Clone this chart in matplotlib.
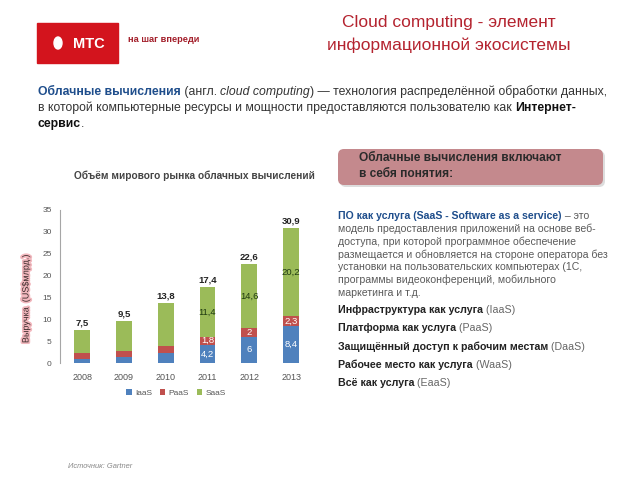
import matplotlib
matplotlib.use("Agg")
import matplotlib.pyplot as plt
from matplotlib.patches import Rectangle, Ellipse, FancyBboxPatch
import matplotlib.patheffects as pe

plt.rcParams['font.family'] = ['Liberation Sans', 'DejaVu Sans']

years = ['2008', '2009', '2010', '2011', '2012', '2013']
iaas = [0.9, 1.4, 2.3, 4.2, 6.0, 8.4]
paas = [1.4, 1.3, 1.7, 1.8, 2.0, 2.3]
saas = [5.2, 6.8, 9.8, 11.4, 14.6, 20.2]
totals = [7.5, 9.5, 13.8, 17.4, 22.6, 30.9]
iaas_lbl = ['', '', '', '4,2', '6', '8,4']
paas_lbl = ['', '', '', '1,8', '2', '2,3']
saas_lbl = ['', '', '', '11,4', '14,6', '20,2']
series_names = ['IaaS', 'PaaS', 'SaaS']
colors = ['#4F81BD', '#C0504D', '#9BBB59']

fig = plt.figure(figsize=(6.4, 4.8), dpi=100)
fig.patch.set_facecolor('white')

bg = fig.add_axes([0, 0, 1, 1])
bg.set_xlim(0, 640)
bg.set_ylim(480, 0)
bg.axis('off')
bg.patch.set_alpha(0)

renderer = fig.canvas.get_renderer()

def rich(x, y, parts, size, va='center'):
    cx = x
    for txt, kw in parts:
        t = bg.text(cx, y, txt, fontsize=size, va=va, ha='left', **kw)
        bb = t.get_window_extent(renderer=renderer)
        cx += bb.width
    return cx

# Logo
bg.add_patch(Rectangle((37, 23), 81, 40, color='#D3141D', zorder=1))
bg.add_patch(Ellipse((58, 43), 8, 12, color='white', zorder=2))
bg.text(73, 43.5, 'МТС', color='white', fontsize=10.5, fontweight='bold', va='center', ha='left', zorder=3)
bg.text(128, 40, 'на шаг впереди', color='#A31E2A', fontsize=6.7, fontweight='bold', va='center', ha='left')

# Title
title_c = '#B4232F'
bg.text(449, 22, 'Cloud computing - элемент', color=title_c, fontsize=12.5, ha='center', va='center')
bg.text(449, 45, 'информационной экосистемы', color=title_c, fontsize=12.5, ha='center', va='center')

# Paragraph
blue = '#1F4E8C'
gray = '#333333'
ps = 8.8
rich(38, 92, [('Облачные вычисления', dict(color=blue, fontweight='bold')),
              (' (англ. ', dict(color=gray)),
              ('cloud computing', dict(color=gray, style='italic')),
              (') — технология распределённой обработки данных,', dict(color=gray))], ps)
rich(38, 108, [('в которой компьютерные ресурсы и мощности предоставляются пользователю как ', dict(color=gray)),
               ('Интернет-', dict(color='#111111', fontweight='bold'))], ps)
rich(38, 124, [('сервис', dict(color='#111111', fontweight='bold')),
               ('.', dict(color=gray))], ps)

# Rose box
box = FancyBboxPatch((338, 149), 265, 36, boxstyle='round,pad=0,rounding_size=6',
                     facecolor='#C4898D', edgecolor='none', zorder=2)
shadow = FancyBboxPatch((340, 151), 265, 36, boxstyle='round,pad=0,rounding_size=6',
                        facecolor='#DDDDDD', edgecolor='none', zorder=1)
bg.add_patch(shadow)
bg.add_patch(box)
bg.text(359, 158, 'Облачные вычисления включают', fontsize=8.6, fontweight='bold', color='#2A2A2A', va='center', zorder=3)
bg.text(359, 174, 'в себя понятия:', fontsize=8.6, fontweight='bold', color='#2A2A2A', va='center', zorder=3)

# List
lgray = '#5A5A5A'
rich(338, 216, [('ПО как услуга (SaaS - Software as a service)', dict(color=blue, fontweight='bold')),
                (' – это', dict(color=lgray))], 7.6)
body = ['модель предоставления приложений на основе веб-',
        'доступа, при которой программное обеспечение',
        'размещается и обновляется на стороне оператора без',
        'установки на пользовательских компьютерах (1С,',
        'программы видеоконференций, мобильного',
        'маркетинга и т.д.']
for i, line in enumerate(body):
    bg.text(338, 229 + i * 12.8, line, fontsize=7.6, color=lgray, va='center')
items = [('Инфраструктура как услуга', ' (IaaS)'),
         ('Платформа как услуга', ' (PaaS)'),
         ('Защищённый доступ к рабочим местам', ' (DaaS)'),
         ('Рабочее место как услуга', ' (WaaS)'),
         ('Всё как услуга', ' (EaaS)')]
for i, (b, n) in enumerate(items):
    rich(338, 310 + i * 18.3, [(b, dict(color='#222222', fontweight='bold')),
                              (n, dict(color='#666666'))], 7.7)

# Chart title and source
bg.text(194, 176, 'Объём мирового рынка облачных вычислений', fontsize=7.3, fontweight='bold',
        color='#444444', ha='center', va='center')
bg.text(68, 467, 'Источник: Gartner', fontsize=5.4, style='italic', color='#888888', va='center')

# Chart
ax = fig.add_axes([60 / 640, 1 - 363 / 480, 252 / 640, 153 / 480])
ax.patch.set_alpha(0)
x = list(range(len(years)))
w = 0.38
b1 = ax.bar(x, iaas, w, color=colors[0], label=series_names[0])
bottom2 = iaas
b2 = ax.bar(x, paas, w, bottom=bottom2, color=colors[1], label=series_names[1])
bottom3 = [a + b for a, b in zip(iaas, paas)]
b3 = ax.bar(x, saas, w, bottom=bottom3, color=colors[2], label=series_names[2])

for i in x:
    if iaas_lbl[i]:
        ax.text(i, iaas[i] / 2, iaas_lbl[i], ha='center', va='center', fontsize=6.8, color='white')
    if paas_lbl[i]:
        ax.text(i, iaas[i] + paas[i] / 2, paas_lbl[i], ha='center', va='center', fontsize=6.8, color='white')
    if saas_lbl[i]:
        ax.text(i, bottom3[i] + saas[i] / 2, saas_lbl[i], ha='center', va='center', fontsize=6.8, color='#1E3A10')
    ax.text(i, totals[i] + 0.6, f'{totals[i]:.1f}'.replace('.', ','), ha='center', va='bottom',
            fontsize=6.8, fontweight='bold', color='#222222')

ax.set_xlim(-0.53, 5.5)
ax.set_ylim(0, 35)
ax.set_yticks(range(0, 36, 5))
ax.set_xticks(x)
ax.set_xticklabels(years)
for s in ['top', 'right', 'bottom']:
    ax.spines[s].set_visible(False)
ax.spines['left'].set_color('#A6A6A6')
ax.tick_params(axis='y', length=0, labelsize=6, colors='#555555', pad=6)
ax.tick_params(axis='x', length=0, labelsize=6.5, colors='#555555', pad=7)

ax.text(-0.135, 0.42, 'Выручка  (US$млрд.)', transform=ax.transAxes, rotation=90, fontsize=6.5,
        color='#3A2A2A', ha='center', va='center',
        path_effects=[pe.withStroke(linewidth=2.5, foreground='#F2B8BE')])

fig.legend(handles=[b1, b2, b3], labels=series_names, loc='center',
           bbox_to_anchor=(176 / 640, 1 - 393 / 480), ncol=3, frameon=False, fontsize=6,
           handlelength=0.7, handleheight=0.7, columnspacing=0.9, handletextpad=0.4,
           labelcolor='#555555')

fig.savefig('out.png', dpi=100)
